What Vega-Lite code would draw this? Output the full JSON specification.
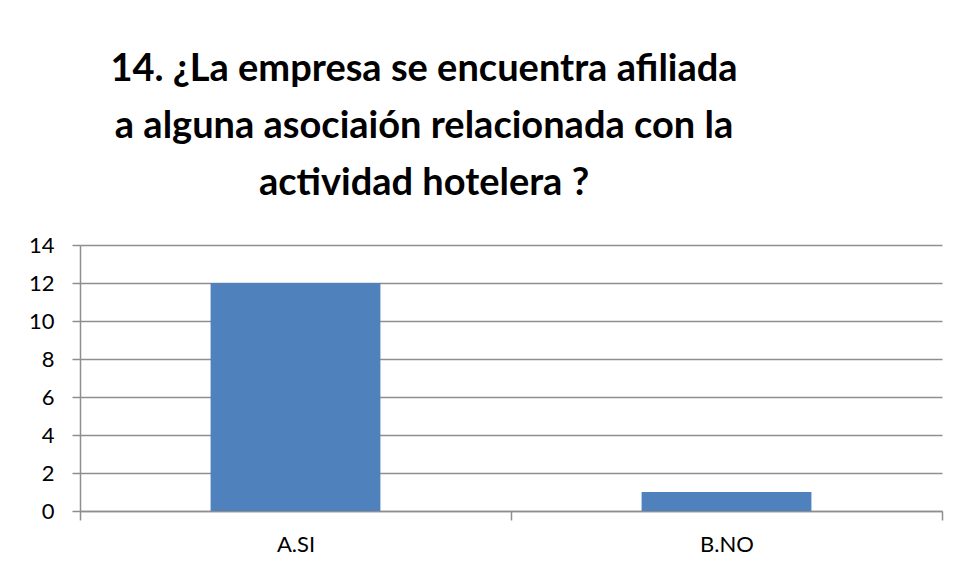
{
  "$schema": "https://vega.github.io/schema/vega-lite/v6.json",
  "width": 862,
  "height": 266,
  "autosize": "none",
  "padding": {"left": 80, "top": 245, "right": 15, "bottom": 60},
  "background": "white",
  "title": {
    "text": ["14. ¿La empresa se encuentra afiliada", "a alguna asociaión relacionada con la", "actividad hotelera ?"],
    "font": "Lato",
    "fontSize": 38,
    "fontWeight": "bold",
    "color": "black",
    "lineHeight": 57,
    "anchor": "middle",
    "dx": -87,
    "offset": 31
  },
  "data": {
    "values": [
      {"respuesta": "A.SI", "valor": 12},
      {"respuesta": "B.NO", "valor": 1}
    ]
  },
  "mark": {"type": "bar", "color": "#4F81BD", "width": {"band": 0.394}},
  "encoding": {
    "x": {
      "field": "respuesta",
      "type": "nominal",
      "title": null,
      "scale": {"paddingInner": 0, "paddingOuter": 0},
      "axis": {
        "labelAngle": 0,
        "tickBand": "extent",
        "domainColor": "#8e8e8e",
        "domainWidth": 1.5,
        "tickColor": "#8e8e8e",
        "tickWidth": 1.5,
        "tickSize": 9,
        "labelFont": "Lato",
        "labelFontSize": 22,
        "labelColor": "black",
        "labelPadding": 14,
        "grid": false
      }
    },
    "y": {
      "field": "valor",
      "type": "quantitative",
      "title": null,
      "scale": {"domain": [0, 14]},
      "axis": {
        "values": [0, 2, 4, 6, 8, 10, 12, 14],
        "grid": true,
        "gridColor": "#8e8e8e",
        "gridWidth": 1.5,
        "domainColor": "#8e8e8e",
        "domainWidth": 1.5,
        "tickColor": "#8e8e8e",
        "tickWidth": 1.5,
        "tickSize": 8,
        "labelFont": "Lato",
        "labelFontSize": 22,
        "labelColor": "black",
        "labelPadding": 18
      }
    }
  },
  "config": {"view": {"stroke": null}}
}
